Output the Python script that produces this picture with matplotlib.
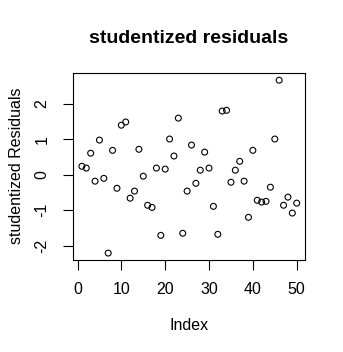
import matplotlib
matplotlib.use("Agg")
import matplotlib.pyplot as plt
import numpy as np

index = list(range(1, 51))
residuals = [0.24, 0.19, 0.61, -0.18, 0.98, -0.10, -2.21, 0.69, -0.38, 1.40,
             1.49, -0.66, -0.46, 0.72, -0.04, -0.86, -0.92, 0.19, -1.71, 0.16,
             1.01, 0.53, 1.60, -1.65, -0.46, 0.84, -0.24, 0.13, 0.64, 0.19,
             -0.89, -1.68, 1.80, 1.82, -0.21, 0.13, 0.38, -0.18, -1.20, 0.69,
             -0.72, -0.77, -0.75, -0.35, 1.01, 2.67, -0.86, -0.63, -1.08, -0.80]
xticks = [0, 10, 20, 30, 40, 50]
yticks = [-2, -1, 0, 1, 2]
title = "studentized residuals"
xlabel = "Index"
ylabel = "studentized Residuals"

plt.rcParams['font.family'] = ['Liberation Sans', 'DejaVu Sans']

W, H = 343, 352
fig = plt.figure(figsize=(W / 100, H / 100), dpi=100)
ax = fig.add_axes([73.3 / W, 1 - 260 / H, (305.3 - 73.3) / W, (260 - 73.3) / H])

ax.scatter(index, residuals, s=18, facecolors='none', edgecolors='black', linewidths=0.8)

xr = max(index) - min(index)
ax.set_xlim(min(index) - 0.04 * xr, max(index) + 0.04 * xr)
yr = max(residuals) - min(residuals)
ax.set_ylim(min(residuals) - 0.04 * yr, max(residuals) + 0.04 * yr)

ax.set_xticks(xticks)
ax.set_yticks(yticks)
ax.set_xticklabels([str(t) for t in xticks])
ax.set_yticklabels([str(t) for t in yticks], rotation=90, va='center')
ax.tick_params(axis='both', direction='out', length=7, width=0.8, labelsize=11.5, color='black')
ax.tick_params(axis='x', pad=9)
ax.tick_params(axis='y', pad=10)
for sp in ax.spines.values():
    sp.set_linewidth(0.8)

fig.text(189 / W, 1 - 38.5 / H, title, ha='center', va='center', fontsize=14.0, fontweight='bold')
fig.text(189 / W, 1 - 326 / H, xlabel, ha='center', va='center', fontsize=11.5)
fig.text(16.5 / W, 1 - 166 / H, ylabel, ha='center', va='center', fontsize=11.5, rotation=90)

fig.savefig("out.png", dpi=100)
